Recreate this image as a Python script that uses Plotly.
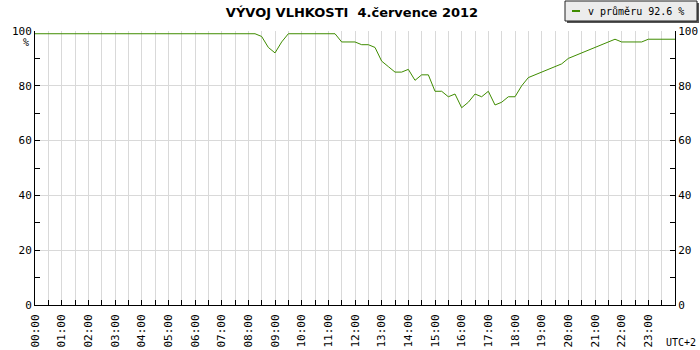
import plotly.graph_objects as go

title_text = "VÝVOJ VLHKOSTI  4.července 2012"
legend_text = "v průměru 92.6 %"
hour_labels = ["00:00", "01:00", "02:00", "03:00", "04:00", "05:00", "06:00", "07:00",
               "08:00", "09:00", "10:00", "11:00", "12:00", "13:00", "14:00", "15:00",
               "16:00", "17:00", "18:00", "19:00", "20:00", "21:00", "22:00", "23:00"]
y_ticks = [0, 20, 40, 60, 80, 100]

# humidity every 15 minutes from 00:00 to 24:00
humidity = (
    [99] * 34 +
    [98, 94, 92, 96] +
    [99] * 8 +
    [96, 96, 96, 95, 95, 94, 89, 87, 85, 85,
     86, 82, 84, 84,
     78, 78, 76, 77,
     72, 74, 77, 76,
     78, 73, 74, 76,
     76, 80, 83, 84,
     85, 86, 87, 88,
     90, 91, 92, 93,
     94, 95, 96, 97,
     96, 96, 96, 96,
     97, 97, 97, 97,
     97]
)
times = [i * 0.25 for i in range(len(humidity))]

GREEN = "#3f8c00"
FONT_MONO = "DejaVu Sans Mono"

fig = go.Figure()
fig.add_trace(go.Scatter(x=times, y=humidity, mode="lines", name=legend_text,
                         line=dict(color=GREEN, width=1), showlegend=False))
fig.add_trace(go.Scatter(x=[0, 24], y=[0, 100], mode="none", yaxis="y2",
                         showlegend=False, hoverinfo="skip"))

axis_font = dict(family=FONT_MONO, size=11, color="#000")

fig.update_layout(
    width=700, height=350,
    margin=dict(l=35, r=25, t=31, b=45, autoexpand=False),
    paper_bgcolor="white", plot_bgcolor="white",
    title=dict(text="<b>" + title_text + "</b>", x=(352 - 35) / 640, xref="paper",
               xanchor="center", y=1 - 12 / 350, yanchor="middle",
               font=dict(family="DejaVu Sans", size=13, color="#000")),
    xaxis=dict(range=[0, 24], tickmode="array", automargin=False,
               tickvals=list(range(24)), ticktext=hour_labels,
               tickangle=-90, ticks="inside", ticklen=5, tickcolor="#000",
               ticklabelstandoff=4,
               showline=True, linecolor="#000", linewidth=1, mirror=False,
               showgrid=True, gridcolor="#d9d9d9", gridwidth=1,
               minor=dict(dtick=0.5, tick0=0, ticks="inside", ticklen=5,
                          tickcolor="#000", showgrid=True, gridcolor="#d9d9d9"),
               zeroline=False, tickfont=axis_font, fixedrange=True),
    yaxis=dict(range=[0, 100], tickvals=y_ticks, ticks="inside", ticklen=5,
               automargin=False,
               tickcolor="#000", showline=True, linecolor="#000", linewidth=1,
               showgrid=True, gridcolor="#d9d9d9", gridwidth=1,
               minor=dict(dtick=10, tick0=0, ticks="inside", ticklen=5,
                          tickcolor="#000", showgrid=False),
               zeroline=False, tickfont=axis_font),
    yaxis2=dict(range=[0, 100], tickvals=y_ticks, overlaying="y", side="right",
                automargin=False,
                ticks="inside", ticklen=5, tickcolor="#000", showline=True,
                linecolor="#000", linewidth=1, showgrid=False,
                minor=dict(dtick=10, tick0=0, ticks="inside", ticklen=5,
                           tickcolor="#000"),
                zeroline=False, tickfont=axis_font),
)

def px_x(p):
    return (p - 35) / 640

def px_y(p):
    return (305 - p) / 274

# percent sign under the 100 label
fig.add_annotation(text="%", xref="paper", yref="paper", x=px_x(31), y=px_y(43),
                   xanchor="right", yanchor="middle", showarrow=False,
                   font=dict(family=FONT_MONO, size=10, color="#000"))
# timezone label
fig.add_annotation(text="UTC+2", xref="paper", yref="paper", x=px_x(698),
                   y=px_y(342), xanchor="right", yanchor="middle", showarrow=False,
                   font=dict(family=FONT_MONO, size=10, color="#000"))

# legend box (drawn manually): shadow, box, sample line, text
fig.add_shape(type="rect", xref="paper", yref="paper",
              x0=px_x(567), x1=px_x(699), y0=px_y(23), y1=px_y(3),
              fillcolor="#555", line=dict(width=0), layer="above")
fig.add_shape(type="rect", xref="paper", yref="paper",
              x0=px_x(565), x1=px_x(697), y0=px_y(21), y1=px_y(1),
              fillcolor="#ececec", line=dict(color="#222", width=1), layer="above")
fig.add_shape(type="line", xref="paper", yref="paper",
              x0=px_x(572), x1=px_x(580), y0=px_y(11), y1=px_y(11),
              line=dict(color=GREEN, width=2), layer="above")
fig.add_annotation(text=legend_text, xref="paper", yref="paper", x=px_x(586),
                   y=px_y(11), xanchor="left", yanchor="middle", showarrow=False,
                   font=dict(family=FONT_MONO, size=10, color="#000"))

fig.write_html("out.html")
